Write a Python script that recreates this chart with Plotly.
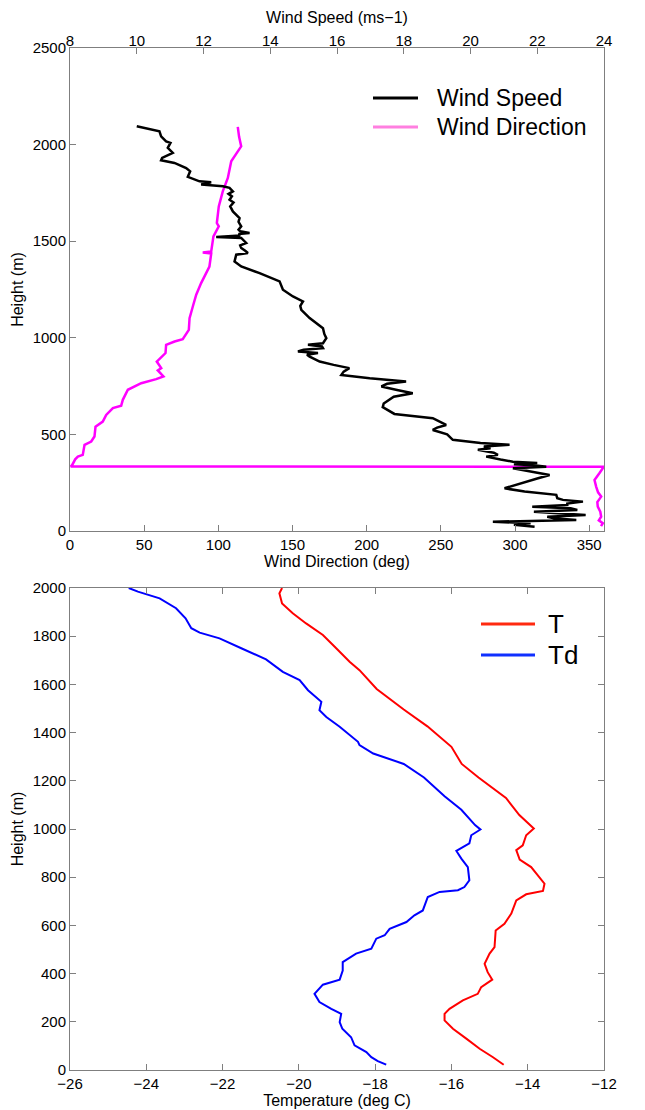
import plotly.graph_objects as go

# ---- Upper panel: wind profile ----
ws_height = [2095, 2069, 2043, 2017, 2009, 1983, 1957, 1931, 1919, 1905, 1879, 1862, 1833, 1810,
             1805, 1793, 1784, 1776, 1758, 1745, 1732, 1715, 1700, 1680, 1654, 1635, 1620, 1600,
             1577, 1560, 1551, 1543, 1537, 1530, 1522, 1517, 1505, 1491, 1478, 1465, 1450, 1439,
             1430, 1412, 1395, 1369, 1335, 1292, 1249, 1214, 1188, 1165, 1145, 1102, 1050, 1020,
             998, 972, 964, 955, 946, 938, 929, 921, 912, 903, 877, 860, 843, 825, 808, 791, 774,
             762, 748, 730, 713, 695, 679, 660, 641, 620, 606, 584, 566, 549, 535, 523, 500, 472,
             455, 446, 438, 428, 420, 405, 394, 385, 370, 359, 352, 345, 340, 333, 325, 310, 290,
             272, 255, 240, 221, 204, 187, 170, 161, 152, 142, 135, 125, 118, 109, 100, 96, 88,
             83, 74, 66, 57, 48, 40, 32, 22]
ws_speed = [10.00, 10.68, 10.73, 10.88, 11.01, 10.93, 11.08, 10.76, 10.73, 11.13, 11.48, 11.60,
            11.53, 11.88, 12.23, 11.93, 12.58, 12.78, 12.88, 12.75, 12.85, 12.78, 12.90, 12.80,
            12.88, 13.00, 13.08, 13.05, 13.13, 13.05, 13.10, 13.38, 13.05, 13.10, 12.38, 13.13,
            13.20, 13.28, 13.10, 13.13, 13.25, 13.33, 12.98, 12.95, 12.93, 13.13, 13.68, 14.28,
            14.38, 14.68, 14.98, 14.90, 14.93, 15.18, 15.58, 15.62, 15.68, 15.58, 15.13, 15.55,
            15.58, 15.00, 14.83, 15.43, 15.10, 15.18, 15.48, 15.90, 16.37, 16.20, 16.13, 16.98,
            18.07, 17.50, 17.33, 17.80, 18.27, 17.70, 17.57, 17.40, 17.37, 17.60, 17.72, 18.87,
            19.10, 19.27, 19.00, 18.87, 19.30, 19.47, 20.30, 21.17, 20.40, 20.60, 20.22, 20.70,
            20.82, 20.47, 20.90, 21.27, 22.00, 21.30, 21.90, 22.27, 21.27, 21.70, 22.37, 22.00,
            21.67, 21.40, 21.02, 21.62, 22.57, 22.60, 22.77, 23.37, 22.90, 22.90, 21.85, 23.00,
            23.20, 21.90, 22.30, 23.30, 23.45, 22.30, 22.50, 23.17, 20.67, 21.80, 21.30, 21.92]

wd_height = [2092, 2040, 1991, 1914, 1827, 1758, 1680, 1594, 1577, 1525, 1447, 1442, 1436, 1369,
             1283, 1223, 1162, 1102, 1041, 993, 981, 964, 921, 877, 843, 831, 800, 786, 765, 731,
             679, 648, 636, 601, 566, 540, 489, 463, 446, 394, 385, 371, 342, 334, 333, 325, 300,
             264, 230, 200, 178, 150, 126, 100, 74, 55, 40, 25]
wd_dir = [113.1, 114.0, 115.4, 108.7, 106.4, 103.0, 100.3, 99.0, 100.3, 96.7, 95.2, 89.5, 95.2,
          94.0, 88.4, 85.1, 82.8, 80.6, 80.1, 76.0, 70.5, 64.8, 64.4, 58.5, 61.5, 59.2, 63.0, 58.1,
          48.0, 39.0, 35.6, 34.5, 28.9, 24.4, 22.1, 17.2, 16.5, 14.3, 9.8, 8.6, 5.3, 3.5, 1.5, 0.5,
          359.5, 359.2, 357.0, 353.6, 354.7, 356.0, 358.1, 355.5, 355.8, 357.5, 358.1, 356.5,
          359.2, 358.0]

# ---- Lower panel: temperature and dew point ----
t_height = [2000, 1978, 1936, 1895, 1853, 1805, 1756, 1694, 1659, 1581, 1496, 1426, 1341, 1270,
            1214, 1129, 1058, 1036, 1002, 974, 932, 912, 873, 842, 794, 773, 743, 729, 704, 649,
            607, 579, 510, 483, 441, 406, 375, 344, 316, 289, 254, 233, 206, 171, 130, 88, 53, 22]
t_temp = [-20.44, -20.51, -20.44, -20.16, -19.81, -19.37, -19.06, -18.67, -18.41, -17.96, -17.25,
          -16.63, -16.00, -15.73, -15.29, -14.57, -14.22, -14.08, -13.84, -14.04, -14.13, -14.30,
          -14.21, -13.91, -13.65, -13.56, -13.60, -14.04, -14.30, -14.43, -14.61, -14.84, -14.87,
          -15.00, -15.13, -15.05, -14.93, -15.22, -15.31, -15.70, -16.05, -16.18, -16.18, -15.96,
          -15.61, -15.26, -14.91, -14.63]

td_height = [2000, 1985, 1957, 1916, 1874, 1833, 1815, 1791, 1750, 1704, 1652, 1618, 1576, 1528,
             1493, 1465, 1424, 1389, 1362, 1348, 1313, 1270, 1214, 1136, 1080, 1016, 998, 974, 940,
             909, 877, 842, 787, 759, 746, 739, 718, 662, 642, 614, 586, 559, 545, 503, 483, 448,
             413, 375, 354, 316, 282, 254, 233, 199, 171, 136, 102, 74, 53, 37, 22]
td_temp = [-24.46, -24.22, -23.65, -23.22, -22.97, -22.82, -22.60, -22.08, -21.51, -20.86, -20.42,
           -19.98, -19.76, -19.41, -19.46, -19.28, -18.93, -18.67, -18.45, -18.41, -18.05, -17.25,
           -16.72, -16.18, -15.74, -15.38, -15.24, -15.48, -15.53, -15.87, -15.74, -15.57, -15.53,
           -15.66, -15.83, -16.31, -16.62, -16.75, -16.97, -17.18, -17.62, -17.75, -17.97, -18.10,
           -18.50, -18.85, -18.85, -18.93, -19.37, -19.59, -19.46, -19.15, -18.89, -18.93, -18.86,
           -18.63, -18.54, -18.23, -18.10, -17.93, -17.71]

dir_ticks = [0, 50, 100, 150, 200, 250, 300, 350]
speed_ticks = [8, 10, 12, 14, 16, 18, 20, 22, 24]
upper_height_ticks = [0, 500, 1000, 1500, 2000, 2500]
temp_ticks = [-26, -24, -22, -20, -18, -16, -14, -12]
lower_height_ticks = [0, 200, 400, 600, 800, 1000, 1200, 1400, 1600, 1800, 2000]

FONT = "Liberation Sans, Arial, Helvetica, sans-serif"
LINE_GREY = "#7f7f7f"
TICK_FONT = dict(family=FONT, size=15, color="black")
TITLE_FONT = dict(family=FONT, size=16, color="black")

# page layout (pixels)
W, H = 645, 1110
ML, MR, MT, MB = 70, 41, 48, 40
PW, PH = W - ML - MR, H - MT - MB


def px_x(px):
    return (px - ML) / PW


def px_y(py):
    return (H - MB - py) / PH


fig = go.Figure()

fig.add_trace(go.Scatter(x=ws_speed, y=ws_height, mode="lines", name="Wind Speed",
                         line=dict(color="black", width=2.5), xaxis="x2", yaxis="y",
                         showlegend=False))
fig.add_trace(go.Scatter(x=wd_dir, y=wd_height, mode="lines", name="Wind Direction",
                         line=dict(color="#ff00ff", width=2.5), xaxis="x", yaxis="y",
                         showlegend=False))
fig.add_trace(go.Scatter(x=t_temp, y=t_height, mode="lines", name="T",
                         line=dict(color="#ff0000", width=2), xaxis="x3", yaxis="y3",
                         showlegend=False))
fig.add_trace(go.Scatter(x=td_temp, y=td_height, mode="lines", name="Td",
                         line=dict(color="#0000ff", width=2), xaxis="x3", yaxis="y3",
                         showlegend=False))

common = dict(showline=True, linecolor=LINE_GREY, linewidth=1, ticks="inside", ticklen=6,
              tickcolor=LINE_GREY, tickwidth=1, showgrid=False, zeroline=False,
              tickfont=TICK_FONT, automargin=False)

top_dom = [px_y(531), 1.0]
bot_dom = [0.0, px_y(588)]

# legend boxes drawn as line samples + labels inside each panel
legend_items = [
    # (label, colour, line y, x0, x1, text x, font size)
    ("Wind Speed", "black", 98, 373, 418, 435, 23),
    ("Wind Direction", "#ff7fe0", 127, 373, 418, 435, 23),
    ("T", "#ff2a10", 624, 481, 535, 546, 26),
    ("Td", "#1030ff", 655, 481, 535, 546, 26),
]
shapes, annotations = [], []
for label, colour, ly, x0, x1, tx, fs in legend_items:
    shapes.append(dict(type="line", xref="paper", yref="paper", x0=px_x(x0), x1=px_x(x1),
                       y0=px_y(ly), y1=px_y(ly), line=dict(color=colour, width=3)))
    annotations.append(dict(text=label, xref="paper", yref="paper", x=px_x(tx), y=px_y(ly),
                            xanchor="left", yanchor="middle", showarrow=False,
                            font=dict(family=FONT, size=fs, color="black")))

fig.update_layout(
    width=W, height=H,
    margin=dict(l=ML, r=MR, t=MT, b=MB),
    paper_bgcolor="white", plot_bgcolor="white",
    font=dict(family=FONT, color="black"),
    showlegend=False,
    xaxis=dict(domain=[0, 1], anchor="y", range=[0, 360], tickvals=dir_ticks, mirror=True,
               title=dict(text="Wind Direction (deg)", font=TITLE_FONT, standoff=2), **common),
    xaxis2=dict(domain=[0, 1], anchor="y", overlaying="x", side="top", range=[8, 24],
                tickvals=speed_ticks, ticklabelstandoff=-5,
                title=dict(text="Wind Speed (ms\u22121)", font=TITLE_FONT, standoff=4), **common),
    yaxis=dict(domain=top_dom, anchor="x", range=[0, 2500], tickvals=upper_height_ticks,
               mirror=True,
               title=dict(text="Height (m)", font=TITLE_FONT, standoff=5), **common),
    yaxis2=dict(domain=top_dom, anchor="x", overlaying="y", side="right", range=[0, 2500],
                tickvals=upper_height_ticks, **common),
    xaxis3=dict(domain=[0, 1], anchor="y3", range=[-26, -12], tickvals=temp_ticks, mirror="ticks",
                title=dict(text="Temperature (deg C)", font=TITLE_FONT, standoff=0), **common),
    yaxis3=dict(domain=bot_dom, anchor="x3", range=[0, 2000], tickvals=lower_height_ticks,
                mirror="ticks",
                title=dict(text="Height (m)", font=TITLE_FONT, standoff=5), **common),
    shapes=shapes,
    annotations=annotations,
)

fig.write_html("out.html")
